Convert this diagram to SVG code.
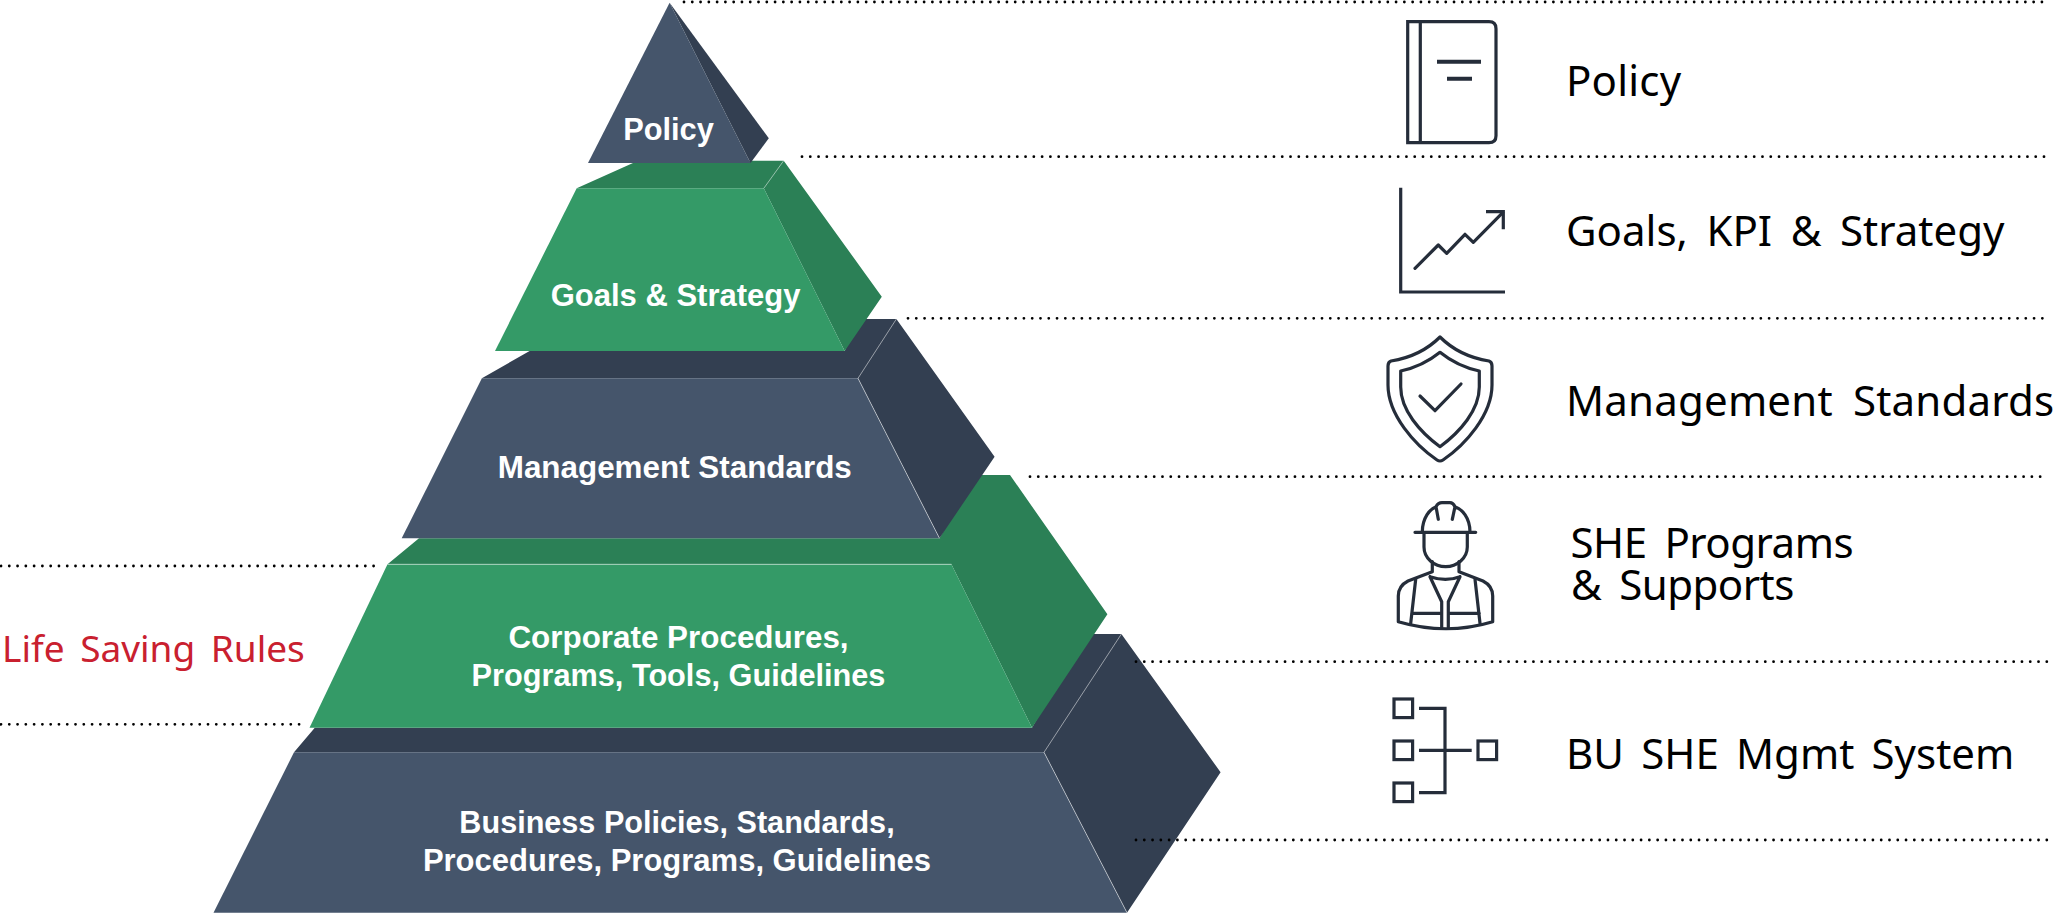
<svg xmlns="http://www.w3.org/2000/svg" width="2056" height="914" viewBox="0 0 2056 914">
<style>
.bg{fill:#fff}
.sl{fill:#45556b}.sld{fill:#333f51}
.gr{fill:#349a67}.grd{fill:#2b8056}
.edge{fill:none;stroke:#fff;stroke-opacity:.5;stroke-width:1}
.lb{font-family:"Liberation Sans",Arial,sans-serif;font-weight:700;font-size:31px;fill:#fff;text-anchor:middle}
.rt{font-family:"Noto Sans",sans-serif;font-size:42px;fill:#000;word-spacing:9px}
.red{font-family:"Noto Sans",sans-serif;font-size:37px;fill:#c9202f;word-spacing:6px}
.dot{fill:none;stroke:#000;stroke-width:2.8;stroke-linecap:round;stroke-dasharray:0 8.28}
.ic{fill:none;stroke:#252d3a;stroke-width:3.2}
.icr{fill:none;stroke:#252d3a;stroke-width:3.2;stroke-linecap:round;stroke-linejoin:round}
</style>
<rect class="bg" width="2056" height="914"/>
<g id="tier-business">
<polygon class="sld" points="294,752.3 314.8,727.7 1032,727.7 1085,634 1121.4,634 1220.6,772.3 1127,912.7 1044,752.3"/>
<polygon class="sl" points="294,752.3 1044,752.3 1127,912.7 213.5,912.7"/>
<path class="edge" d="M1121.4,634 L1044,752.3 L1127,912.7"/>
<text class="lb" x="677" y="832.7" style="font-size:30.6px">Business Policies, Standards,</text>
<text class="lb" x="677" y="870.7">Procedures, Programs, Guidelines</text>
</g>
<g id="tier-corporate">
<polygon class="grd" points="387.5,564.3 419,538.3 939.5,538.3 975,475 1010,475 1107.4,614.3 1032,727.7 951.4,564.3"/>
<polygon class="gr" points="387.5,564.3 951.4,564.3 1032,727.7 309.5,727.7"/>
<path class="edge" d="M387.5,564.3 H951.4"/>
<text class="lb" x="678.5" y="648" style="font-size:31.4px">Corporate Procedures,</text>
<text class="lb" x="678.5" y="686" style="font-size:30.7px">Programs, Tools, Guidelines</text>
</g>
<g id="tier-management">
<polygon class="sld" points="481.9,378.3 529.6,351 844.7,351 860,319 896.4,319 994.6,456.7 939.5,538.3 858,378.3"/>
<polygon class="sl" points="481.9,378.3 858,378.3 939.5,538.3 401.7,538.3"/>
<path class="edge" d="M896.4,319 L858,378.3 L939.5,538.3"/>
<text class="lb" x="674.8" y="478" style="font-size:31.4px">Management Standards</text>
</g>
<g id="tier-goals">
<polygon class="grd" points="576.7,188.3 633,163 745,160.7 783.7,160.7 881.8,296.7 844.7,351 763.8,188.3"/>
<polygon class="gr" points="576.7,188.3 763.8,188.3 844.7,351 495,351"/>
<path class="edge" d="M783.7,160.7 L763.8,188.3"/>
<text class="lb" x="675.6" y="305.5">Goals &amp; Strategy</text>
</g>
<g id="tier-policy">
<polygon class="sld" points="669.6,2.7 768.8,138.3 750.5,163"/>
<polygon class="sl" points="669.6,2.7 750.5,163 588,163"/>
<text class="lb" x="668.5" y="140" style="font-size:30.8px">Policy</text>
</g>
<g id="connectors">
<line class="dot" x1="684" y1="2" x2="2048" y2="2"/>
<line class="dot" x1="802" y1="156.7" x2="2048" y2="156.7"/>
<line class="dot" x1="908" y1="318.3" x2="2048" y2="318.3"/>
<line class="dot" x1="1030" y1="476.7" x2="2048" y2="476.7"/>
<line class="dot" x1="1136" y1="661.7" x2="2048" y2="661.7"/>
<line class="dot" x1="1136" y1="840" x2="2048" y2="840"/>
<line class="dot" x1="1" y1="566" x2="378" y2="566"/>
<line class="dot" x1="1" y1="724.3" x2="302" y2="724.3"/>
</g>
<g id="label-life-saving">
<text class="red" x="2" y="662">Life Saving Rules</text>
</g>
<g id="row-policy">
<path class="ic" d="M1407.7,21.7 H1489 Q1496,21.7 1496,28.7 V135.7 Q1496,142.7 1489,142.7 H1407.7 Z M1420.3,21.7 V142.7"/>
<path d="M1437,61.7 H1481 M1447,78.7 H1472" fill="none" stroke="#252d3a" stroke-width="4"/>
<text class="rt" x="1566" y="96" letter-spacing=".2">Policy</text>
</g>
<g id="row-goals">
<path class="ic" d="M1400.7,187.7 V292 H1505"/>
<path class="icr" d="M1415,268.3 L1438.3,245 L1446.7,253.3 L1465,234.3 L1473.3,242.3 L1502.7,212.7"/>
<path class="ic" d="M1486,211.7 H1503.3 V229.3"/>
<text class="rt" x="1566" y="246" style="word-spacing:7.7px">Goals, KPI &amp; Strategy</text>
</g>
<g id="row-management">
<path class="icr" d="M1440,337 C1426,351 1410,358 1391,361 Q1388,362 1388,366 V385 C1388,415 1415,445 1437,460 Q1440,462 1443,460 C1465,445 1492,415 1492,385 V366 Q1492,362 1489,361 C1470,358 1454,351 1440,337 Z"/>
<path class="icr" d="M1440,352.3 C1428,362 1415,368 1400.7,371 V387 C1400.7,410 1420,432 1440,446.7 C1460,432 1479.3,410 1479.3,387 V371 C1465,368 1452,362 1440,352.3 Z"/>
<path class="icr" d="M1420,396 L1435,410.7 L1461,384"/>
<text class="rt" x="1566" y="416" letter-spacing=".2">Management Standards</text>
</g>
<g id="row-programs">
<path class="icr" d="M1415,532.3 H1475.7 M1422.3,532 C1422.3,518 1430,509 1436,506.7 Q1438,502.7 1442,502.7 H1450 Q1453,502.7 1455,506.7 C1462,509 1470,518 1470,532 M1436,506.7 L1438.3,519.3 M1455,506.7 L1452.3,519.3"/>
<path class="icr" d="M1424,533 V547 C1424,558 1434,566.7 1445.7,566.7 C1457,566.7 1467.3,558 1467.3,547 V533"/>
<path class="icr" d="M1432.3,561.7 V571.7 L1408,581 Q1398.3,586 1398.3,596 V621.7 C1430,631 1462,631 1492.7,621.7 V596 Q1492.7,586 1483,581 L1459,571.7 V561.7"/>
<path class="icr" d="M1430,576.7 Q1445.7,582 1460,576.7 M1430,576.7 L1441.7,601.7 V627 M1460,576.7 L1448.3,601.7 V627 M1415.7,579.3 L1410.7,623.3 M1475,579.3 L1480,623.3 M1411.7,613.3 H1441.7 M1448.3,613.3 H1479.3"/>
<text class="rt" letter-spacing="-.5" style="word-spacing:7.5px"><tspan x="1570.5" y="557.5">SHE Programs</tspan><tspan x="1571" y="600">&amp; Supports</tspan></text>
</g>
<g id="row-bu">
<rect class="ic" x="1394" y="699" width="18.6" height="18.6"/>
<rect class="ic" x="1394" y="741" width="18.6" height="18.6"/>
<rect class="ic" x="1394" y="783" width="18.6" height="18.6"/>
<rect class="ic" x="1478" y="741" width="18.6" height="18.6"/>
<path class="ic" d="M1419,708.3 H1445 V792.7 H1419 M1419,750.3 H1471.7"/>
<text class="rt" x="1566" y="769" style="word-spacing:6.3px">BU SHE Mgmt System</text>
</g>
</svg>
